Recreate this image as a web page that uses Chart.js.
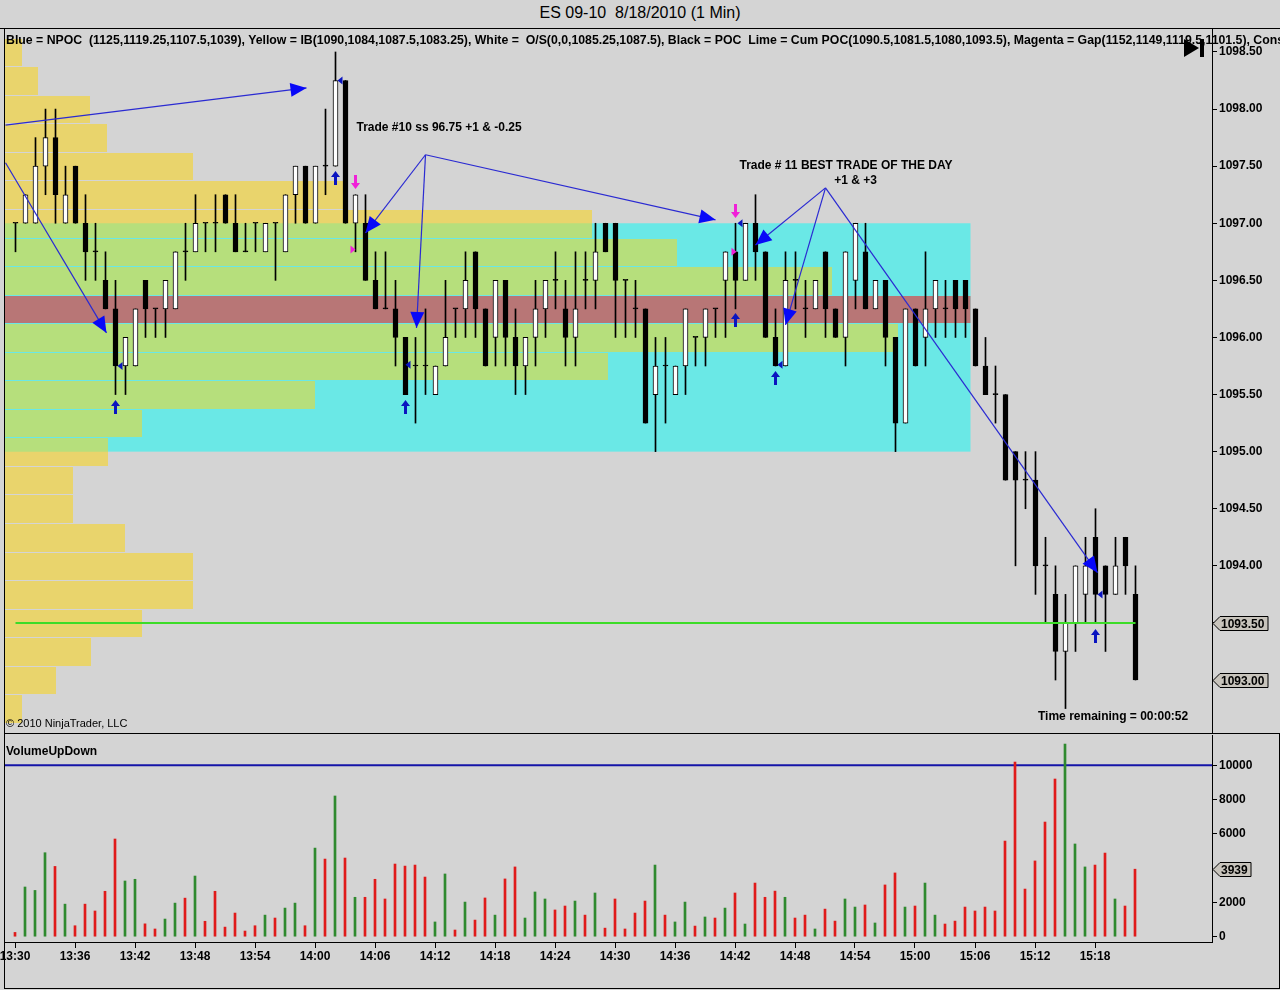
<!DOCTYPE html>
<html><head><meta charset="utf-8">
<script src="https://cdn.jsdelivr.net/npm/chart.js@4.4.1/dist/chart.umd.min.js"></script>
<style>
html,body{margin:0;padding:0;background:#d4d4d4;}
#wrap{position:relative;width:1280px;height:990px;background:#d4d4d4;overflow:hidden;font-family:"Liberation Sans",Arial,sans-serif;color:#000;}
canvas{position:absolute;left:0;z-index:1;}
#c1{top:28px;width:1280px;height:705px;}
#c2{top:733px;width:1280px;height:257px;}
.t{position:absolute;white-space:nowrap;line-height:14px;z-index:2;}
.ln{position:absolute;background:#000;z-index:3;}
</style></head>
<body><div id="wrap">
<div class="t" style="left:0;top:4px;width:1280px;text-align:center;font-size:16px;line-height:18px;">ES 09-10&nbsp; 8/18/2010 (1 Min)</div>
<canvas id="c1" width="1280" height="705"></canvas>
<canvas id="c2" width="1280" height="257"></canvas>
<div class="t" style="left:6px;top:33px;width:1274px;overflow:hidden;font-weight:bold;font-size:12.3px;">Blue = NPOC&nbsp; (1125,1119.25,1107.5,1039), Yellow = IB(1090,1084,1087.5,1083.25), White =&nbsp; O/S(0,0,1085.25,1087.5), Black = POC&nbsp; Lime = Cum POC(1090.5,1081.5,1080,1093.5), Magenta = Gap(1152,1149,1119.5,1101.5), Cons</div>
<div class="t" style="left:6px;top:716px;font-size:11px;">© 2010 NinjaTrader, LLC</div>
<div class="t" style="left:1038px;top:709px;font-weight:bold;font-size:12px;">Time remaining = 00:00:52</div>
<div class="t" style="left:6px;top:744px;font-weight:bold;font-size:12px;">VolumeUpDown</div>
<div class="ln" style="left:0;top:28px;width:1280px;height:1px;"></div>
<div class="ln" style="left:4px;top:28px;width:1px;height:961px;"></div>
<div class="ln" style="left:4px;top:733px;width:1276px;height:1px;"></div>
<div class="ln" style="left:1279px;top:733px;width:1px;height:256px;"></div>
<div class="ln" style="left:4px;top:988px;width:1276px;height:1px;"></div>
</div>
<script>
// ---------------- data ----------------
const timeLabels = ['13:30','13:36','13:42','13:48','13:54','14:00','14:06','14:12','14:18','14:24','14:30','14:36','14:42','14:48','14:54','15:00','15:06','15:12','15:18'];
const sessionStart = '13:30';

const candleOpen = [
1097,1097,1097,1097.5,1097.75,1097,1097.5,1097,1096.75,1096.5,
1096.25,1095.75,1095.75,1096.5,1096.25,1096.25,1096.25,1096.75,1096.75,1097,
1097,1097.25,1097,1096.75,1097,1096.75,1097,1096.75,1097.25,1097.5,
1097,1097.5,1097.5,1098.25,1097,1097,1096.5,1096.25,1096.25,1096,
1095.75,1095.75,1095.5,1095.75,1096.25,1096.25,1096.75,1096.25,1096,1096.5,
1096,1095.75,1096,1096.25,1096.5,1096.25,1096,1096.5,1096.5,1097,
1097,1096.5,1096.25,1096.25,1095.5,1095.75,1095.5,1095.75,1096,1096,
1096.25,1096.5,1096.75,1096.5,1097,1096.75,1096,1095.75,1096.5,1096.25,
1096.25,1096.75,1096.25,1096,1096.5,1096.75,1096.25,1096.5,1096,1095.25,
1096.25,1096,1096.25,1096.25,1096.5,1096.5,1096.25,1095.75,1095.5,1095.5,
1095,1094.75,1094.75,1094,1093.75,1093.25,1093.5,1093.75,1094.25,1094,
1093.75,1094.25,1093.75];
const candleHigh = [
1097,1097.25,1097.75,1098,1098,1097.5,1097.5,1097.25,1097,1096.75,
1096.5,1096,1096.25,1096.5,1096.25,1096.5,1096.75,1097,1097.25,1097,
1097.25,1097.25,1097.25,1097,1097,1097,1097,1097.25,1097.5,1097.5,
1097.5,1098,1098.5,1098.25,1097.25,1097.25,1096.75,1096.75,1096.5,1096,
1096,1096.25,1095.75,1096.5,1096.25,1096.75,1096.75,1096.25,1096.5,1096.5,
1096.25,1096,1096.5,1096.5,1096.75,1096.5,1096.75,1096.75,1097,1097,
1097,1096.5,1096.5,1096.25,1096,1096,1095.75,1096.25,1096,1096.25,
1096.25,1096.75,1097,1097,1097.25,1096.75,1096.25,1096.75,1096.75,1096.5,
1096.5,1096.75,1096.25,1096.75,1097,1097,1096.5,1096.5,1096,1096.25,
1096.25,1096.75,1096.5,1096.5,1096.5,1096.5,1096.25,1096,1095.75,1095.5,
1095,1095,1095,1094.25,1094,1093.75,1094,1094.25,1094.5,1094,
1094.25,1094.25,1094];
const candleLow = [
1096.75,1097,1097,1097.25,1097,1097,1097,1096.5,1096.5,1096.25,
1095.5,1095.5,1095.75,1096,1096,1096,1096.25,1096.5,1096.75,1096.75,
1096.75,1097,1096.75,1096.75,1096.75,1096.75,1096.5,1096.75,1097,1097,
1097,1097.25,1097.5,1097,1096.75,1096.5,1096.25,1096.25,1095.75,1095.5,
1095.25,1095.5,1095.5,1095.75,1096,1096,1096,1095.75,1095.75,1095.75,
1095.5,1095.5,1095.75,1096,1096.25,1095.75,1095.75,1096.25,1096.25,1096.75,
1096,1096,1096,1095.25,1095,1095.25,1095.5,1095.5,1095.75,1095.75,
1096,1096,1096.25,1096.5,1096.5,1096,1095.75,1095.75,1096.25,1096,
1096.25,1096,1096,1095.75,1096.25,1096.25,1096.25,1095.75,1095,1095.25,
1095.75,1095.75,1096,1096,1096,1096,1095.75,1095.5,1095.25,1094.75,
1094,1094.5,1093.75,1093.5,1093,1092.75,1093.25,1093.5,1093.5,1093.25,
1093.75,1093.75,1093];
const candleClose = [
1097,1097.25,1097.5,1097.75,1097.25,1097.25,1097,1096.75,1096.75,1096.25,
1095.75,1096,1096.25,1096.25,1096.25,1096.5,1096.75,1096.75,1097,1097,
1097,1097,1096.75,1096.75,1097,1097,1097,1097.25,1097.5,1097,
1097.5,1097.5,1098.25,1097,1097.25,1096.5,1096.25,1096.25,1096,1095.5,
1095.75,1095.75,1095.75,1096,1096.25,1096.5,1096.25,1095.75,1096.5,1096,
1095.75,1096,1096.25,1096.5,1096.5,1096,1096.25,1096.5,1096.75,1096.75,
1096.5,1096.5,1096.25,1095.25,1095.75,1095.75,1095.75,1096.25,1096,1096.25,
1096.25,1096.75,1096.5,1097,1096.75,1096,1095.75,1096.5,1096.5,1096.25,
1096.5,1096.25,1096,1096.75,1097,1096.25,1096.5,1096,1095.25,1096.25,
1095.75,1096.25,1096.5,1096.25,1096.25,1096.25,1095.75,1095.5,1095.5,1094.75,
1094.75,1094.75,1094,1094,1093.25,1093.5,1094,1094,1093.75,1093.75,
1094,1094,1093];
const volumes = [
250,2900,2700,4900,4100,1900,640,1900,1500,2650,
5700,3250,3350,750,450,1030,1960,2250,3540,900,
2650,560,1380,330,640,1260,1090,1670,1960,640,
5170,4530,8210,4590,2300,2300,3350,2200,4240,4120,
4180,3480,860,3660,390,2020,970,2260,1260,3370,
4070,1090,2610,2200,1560,1790,2080,1260,2550,500,
2200,450,1380,2080,4180,1260,860,2020,620,1150,
1090,1670,2550,740,3130,2300,2660,2300,1090,1260,
450,1610,910,2200,1730,1850,800,3020,3720,1730,
1790,3130,1260,740,910,1730,1500,1730,1500,5580,
10190,2780,4420,6690,9200,11240,5410,4070,4180,4880,
2200,1790,3939];

// volume profile (rows of 0.25)
const profilePrices = [1098.5,1098.25,1098,1097.75,1097.5,1097.25,1097,1096.75,1096.5,1096.25,1096,1095.75,1095.5,1095.25,1095,1094.75,1094.5,1094.25,1094,1093.75,1093.5,1093.25,1093,1092.75];
const profileVolume = [340,660,1700,2040,3760,6840,11740,13440,16540,18600,17860,12060,6200,2740,2060,1360,1360,2400,3760,3760,2740,1720,1020,340];
const tickSize = 0.25;

// zones
const zoneHigh = 1097.0, zoneLow = 1095.0, zoneEndBar = 95.5;
const pocPrice = 1096.25;
const cumPOC = 1093.5;
const volumeLevel = 10000;

const priceTicks = [1093,1093.5,1094,1094.5,1095,1095.5,1096,1096.5,1097,1097.5,1098,1098.5];
const volumeTicks = [0,2000,6000,8000,10000];

// annotations (data coordinates: bar index, price)
const tradeArrows = [
  {from:[-1,1097.86], to:[29.1,1098.185]},
  {from:[-1,1097.53], to:[9.1,1096.04]},
  {from:[41,1097.6], to:[35,1096.915]},
  {from:[41,1097.6], to:[40.1,1096.083]},
  {from:[41,1097.6], to:[70,1097.03]},
  {from:[81,1097.31], to:[74,1096.81]},
  {from:[81,1097.31], to:[77,1096.11]},
  {from:[81,1097.31], to:[108.2,1093.94]}
];
const notes = [
  {text:'Trade #10 ss 96.75 +1 & -0.25', at:[34.1,1097.84], align:'left'},
  {text:'Trade # 11 BEST TRADE OF THE DAY', at:[72.4,1097.5], align:'left'},
  {text:'+1 & +3', at:[84,1097.37], align:'center'}
];
const buyMarks = [[10,1095.452],[32,1097.458],[39,1095.452],[72,1096.214],[76,1095.706],[108,1093.447]];
const sellMarks = [[34,1097.30],[72,1097.046]];
const fillBlue = [[10.3,1095.75],[32.3,1098.25],[39.1,1095.76],[72.3,1097.0],[76.3,1095.76],[108.3,1093.75]];
const fillPink = [[33.7,1096.77],[71.8,1096.75]];

// ---------------- colors ----------------
const C_CYAN='#6ae8e6', C_YELLOW='#e9d46c', C_GREEN='#b6df7c', C_POC='#b87676';
const C_UP='#2f8a2f', C_DOWN='#e01a1a', C_LIME='#3cdc28';
const FONT='"Liberation Sans", Arial, sans-serif';
Chart.defaults.font.family = FONT;

const toMin = s => { const [h,m]=s.split(':').map(Number); return h*60+m; };
const timeTickPos = timeLabels.map(s => toMin(s) - toMin(sessionStart));

const n = candleOpen.length;
const wicks = candleLow.map((l,i)=>({x:i, y:[l, candleHigh[i]]}));
const bodies = candleOpen.map((o,i)=>({x:i, y:[o, candleClose[i]]}));
const bodyColors = candleOpen.map((o,i)=> candleClose[i] > o ? '#ffffff' : '#000000');
const volColors = candleOpen.map((o,i)=> candleClose[i] > o ? C_UP : C_DOWN);

// ---------------- helpers ----------------
function arrowHead(ctx,x0,y0,x1,y1,len,half,color){
  const a=Math.atan2(y1-y0,x1-x0);
  ctx.fillStyle=color; ctx.beginPath();
  ctx.moveTo(x1,y1);
  ctx.lineTo(x1-len*Math.cos(a)+half*Math.sin(a), y1-len*Math.sin(a)-half*Math.cos(a));
  ctx.lineTo(x1-len*Math.cos(a)-half*Math.sin(a), y1-len*Math.sin(a)+half*Math.cos(a));
  ctx.closePath(); ctx.fill();
}
function fatArrow(ctx,x,yTip,t,color){
  ctx.fillStyle=color; ctx.beginPath();
  ctx.moveTo(x,yTip);
  ctx.lineTo(x+4.5,yTip+6*t); ctx.lineTo(x+1.5,yTip+6*t); ctx.lineTo(x+1.5,yTip+14*t);
  ctx.lineTo(x-1.5,yTip+14*t); ctx.lineTo(x-1.5,yTip+6*t); ctx.lineTo(x-4.5,yTip+6*t);
  ctx.closePath(); ctx.fill();
}
function marker(ctx,xL,yc,text,w){
  ctx.beginPath();
  ctx.moveTo(xL,yc); ctx.lineTo(xL+7,yc-7); ctx.lineTo(xL+w,yc-7); ctx.lineTo(xL+w,yc+7); ctx.lineTo(xL+7,yc+7); ctx.closePath();
  ctx.fillStyle='#c8c4bc'; ctx.fill(); ctx.strokeStyle='#000'; ctx.lineWidth=1; ctx.stroke();
  ctx.fillStyle='#000'; ctx.font='bold 12px '+FONT; ctx.textAlign='left'; ctx.textBaseline='middle';
  ctx.fillText(text,xL+8,yc+1);
}
const noPad = s => { s.paddingTop=0; s.paddingBottom=0; s.paddingLeft=0; s.paddingRight=0; };

// ---------------- price chart ----------------
const zonesPlugin = {
  id:'zones',
  beforeDatasetsDraw(chart){
    const {ctx, chartArea:a, scales:{x,y,xp}} = chart;
    ctx.save();
    ctx.beginPath(); ctx.rect(a.left,a.top,a.right-a.left,a.bottom-a.top); ctx.clip();
    const xe = x.getPixelForValue(zoneEndBar);
    const yT = y.getPixelForValue(zoneHigh), yB = y.getPixelForValue(zoneLow);
    ctx.fillStyle=C_CYAN; ctx.fillRect(a.left,yT,xe-a.left,yB-yT);
    const rows = color => {
      ctx.fillStyle=color;
      profilePrices.forEach((p,k)=>{
        const t=Math.round(y.getPixelForValue(p+tickSize/2))+1;
        const b=Math.round(y.getPixelForValue(p-tickSize/2));
        const r=xp.getPixelForValue(profileVolume[k]);
        ctx.fillRect(a.left,t,r-a.left,b-t);
      });
    };
    rows(C_YELLOW);
    ctx.save(); ctx.beginPath(); ctx.rect(a.left,yT,a.right-a.left,yB-yT); ctx.clip(); rows(C_GREEN); ctx.restore();
    const pt=Math.round(y.getPixelForValue(pocPrice+tickSize/2))+1, pb=Math.round(y.getPixelForValue(pocPrice-tickSize/2));
    ctx.fillStyle=C_POC; ctx.fillRect(a.left,pt,xe-a.left,pb-pt);
    ctx.restore();
  },
  afterDatasetsDraw(chart){
    const {ctx, scales:{x,y}} = chart;
    const P = ([i,p]) => [x.getPixelForValue(i), y.getPixelForValue(p)];
    ctx.save();
    tradeArrows.forEach(ar=>{
      const [x0,y0]=P(ar.from), [x1,y1]=P(ar.to);
      ctx.strokeStyle='#2a2ad2'; ctx.lineWidth=1.2; ctx.beginPath(); ctx.moveTo(x0,y0); ctx.lineTo(x1,y1); ctx.stroke();
      arrowHead(ctx,x0,y0,x1,y1,16,7,'#0808f8');
    });
    buyMarks.forEach(m=>{const [px,py]=P(m); fatArrow(ctx,px,py,1,'#0a14c0');});
    sellMarks.forEach(m=>{const [px,py]=P(m); fatArrow(ctx,px,py,-1,'#f020d8');});
    fillBlue.forEach(m=>{const [px,py]=P(m); ctx.fillStyle='#0a14c0'; ctx.beginPath(); ctx.moveTo(px-1,py); ctx.lineTo(px+4,py-4); ctx.lineTo(px+4,py+4); ctx.closePath(); ctx.fill();});
    fillPink.forEach(m=>{const [px,py]=P(m); ctx.fillStyle='#f020d8'; ctx.beginPath(); ctx.moveTo(px+3,py); ctx.lineTo(px-2,py-4); ctx.lineTo(px-2,py+4); ctx.closePath(); ctx.fill();});
    ctx.fillStyle='#000'; ctx.font='bold 12px '+FONT; ctx.textBaseline='middle';
    notes.forEach(nt=>{const [px,py]=P(nt.at); ctx.textAlign=nt.align; ctx.fillText(nt.text,px,py);});
    ctx.restore();
  },
  afterDraw(chart){
    const {ctx, chartArea:a, scales:{y}} = chart;
    ctx.save();
    marker(ctx,a.right+1,Math.round(y.getPixelForValue(cumPOC))+0.5,cumPOC.toFixed(2),55);
    marker(ctx,a.right+1,Math.round(y.getPixelForValue(candleClose[n-1]))+0.5,candleClose[n-1].toFixed(2),55);
    ctx.fillStyle='#000'; ctx.beginPath();
    ctx.moveTo(a.right-28,11); ctx.lineTo(a.right-28,29); ctx.lineTo(a.right-13,20); ctx.closePath(); ctx.fill();
    ctx.fillRect(a.right-12,11,4,18);
    ctx.restore();
  }
};

new Chart(document.getElementById('c1'), {
  type:'bar',
  data:{datasets:[
    {type:'line', label:'Cum POC', data:[{x:0,y:cumPOC},{x:n-1,y:cumPOC}], borderColor:C_LIME, borderWidth:2, pointRadius:0, order:0},
    {type:'bar', label:'Body', data:bodies, backgroundColor:bodyColors, borderColor:'#000', borderWidth:1, borderSkipped:false, barThickness:5, minBarLength:1, grouped:false, order:1},
    {type:'bar', label:'Wick', data:wicks, backgroundColor:'#000', borderWidth:0, barThickness:1, grouped:false, order:2}
  ]},
  options:{
    responsive:false, animation:false, devicePixelRatio:1,
    layout:{padding:{left:5,right:0,top:0,bottom:0}},
    plugins:{legend:{display:false}, tooltip:{enabled:false}},
    scales:{
      x:{type:'linear', min:-1.05, max:119.65, offset:false, display:false, grid:{offset:false}},
      xp:{type:'linear', axis:'x', min:0, max:24140, offset:false, display:false, grid:{offset:false}},
      y:{type:'linear', position:'right', min:1092.536, max:1098.71, beginAtZero:false,
         afterFit(s){ s.width=68; noPad(s); },
         afterBuildTicks(s){ s.ticks = priceTicks.map(v=>({value:v})); },
         ticks:{autoSkip:false, padding:2, color:'#000', font:{size:12, weight:'bold'}, callback:v=>Number(v).toFixed(2)},
         grid:{drawOnChartArea:false, drawTicks:true, tickLength:5, color:'#000'},
         border:{display:true, color:'#000'}}
    }
  },
  plugins:[zonesPlugin]
});

// ---------------- volume chart ----------------
const volPlugin = {
  id:'volMarker',
  afterDraw(chart){
    const {ctx, chartArea:a, scales:{y}} = chart;
    ctx.save();
    marker(ctx,a.right+1,Math.round(y.getPixelForValue(volumes[n-1]))+0.5,String(volumes[n-1]),38);
    ctx.restore();
  }
};
new Chart(document.getElementById('c2'), {
  type:'bar',
  data:{datasets:[
    {type:'line', label:'Level', data:[{x:-1,y:volumeLevel},{x:119.7,y:volumeLevel}], borderColor:'#1414a8', borderWidth:2, pointRadius:0, order:1},
    {type:'bar', label:'Volume', data:volumes.map((v,i)=>({x:i,y:v})), backgroundColor:volColors, barThickness:2, grouped:false, order:0}
  ]},
  options:{
    responsive:false, animation:false, devicePixelRatio:1,
    layout:{padding:{left:5,right:0,top:2,bottom:0}},
    plugins:{legend:{display:false}, tooltip:{enabled:false}},
    scales:{
      x:{type:'linear', min:-1, max:119.7, offset:false,
         afterFit(s){ s.height=48; noPad(s); },
         afterBuildTicks(s){ s.ticks = timeTickPos.map(v=>({value:v})); },
         ticks:{autoSkip:false, maxRotation:0, padding:1, color:'#000', font:{size:12, weight:'bold'}, callback:(v,k)=>timeLabels[k]},
         grid:{drawOnChartArea:false, drawTicks:true, tickLength:6, color:'#000', offset:false},
         border:{display:true, color:'#000'}},
      y:{type:'linear', position:'right', min:-309, max:11768, beginAtZero:false,
         afterFit(s){ s.width=68; noPad(s); },
         afterBuildTicks(s){ s.ticks = volumeTicks.map(v=>({value:v})); },
         ticks:{autoSkip:false, padding:2, color:'#000', font:{size:12, weight:'bold'}, callback:v=>String(v)},
         grid:{drawOnChartArea:false, drawTicks:true, tickLength:5, color:'#000'},
         border:{display:true, color:'#000'}}
    }
  },
  plugins:[volPlugin]
});
</script>
</body></html>
